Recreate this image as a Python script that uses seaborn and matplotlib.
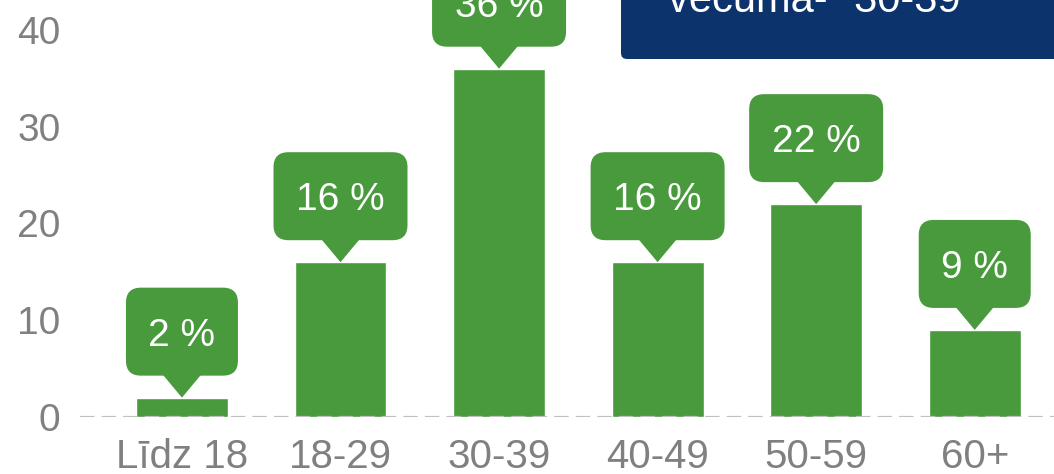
import numpy as np
import pandas as pd
import seaborn as sns
import matplotlib.pyplot as plt
import matplotlib.transforms as mtransforms
from matplotlib.patches import FancyBboxPatch, Polygon

# data
age_groups = ["Līdz 18", "18-29", "30-39", "40-49", "50-59", "60+"]
shares = [2, 16, 36, 16, 22, 9]
callout_labels = ["2 %", "16 %", "36 %", "16 %", "22 %", "9 %"]
y_ticks = [0, 10, 20, 30, 40]
banner_text = 'vecuma- "30-39"'

green = "#489a3d"
navy = "#0c336b"
grey = "#808080"

sns.set_theme(style="white")
plt.rcParams["font.family"] = ["Liberation Sans", "DejaVu Sans"]

df = pd.DataFrame({"age": age_groups, "share": shares})

fig = plt.figure(figsize=(10.54, 4.74), dpi=100)
ax = fig.add_axes([80 / 1054, 57 / 474, 1 - 80 / 1054, 1 - 57 / 474])

sns.barplot(data=df, x="age", y="share", color=green, saturation=1,
            width=0.58, ax=ax)

ax.set_xlim(-0.643, 5.50)
ax.set_ylim(0, 43.1)
ax.set_yticks(y_ticks)
ax.set_xlabel("")
ax.set_ylabel("")
sns.despine(ax=ax, left=True, bottom=True)
ax.tick_params(axis="both", length=0, labelsize=28, labelcolor=grey)
ax.tick_params(axis="y", pad=14)
ax.tick_params(axis="x", pad=15, labelsize=29)

ax.axhline(0, color="#c0c0c0", lw=1.6, dashes=(6.5, 3.2), zorder=5)

# callouts above each bar (offsets in pixels from bar top)
for i, (v, lab) in enumerate(zip(shares, callout_labels)):
    trans = mtransforms.ScaledTranslation(i, v, ax.transData)
    w = 112 if len(lab) < 4 else 134
    box = FancyBboxPatch((-w / 2, 22), w, 88,
                         boxstyle="round,pad=0,rounding_size=15",
                         fc=green, ec="none", transform=trans, clip_on=False)
    tri = Polygon([(-20, 24), (20, 24), (0, 0)], closed=True,
                  fc=green, ec="none", transform=trans, clip_on=False)
    ax.add_patch(box)
    ax.add_patch(tri)
    ax.annotate(lab, xy=(i, v), xytext=(0, 66), textcoords="offset pixels",
                ha="center", va="center_baseline", color="white", fontsize=28)

# banner at top right
banner = FancyBboxPatch((621, 415), 600, 200,
                        boxstyle="round,pad=0,rounding_size=6",
                        fc=navy, ec="none",
                        transform=mtransforms.IdentityTransform())
fig.add_artist(banner)
fig.text(668 / 1054, 462 / 474, banner_text, color="white", fontsize=30,
         ha="left", va="baseline")

fig.savefig("out.png", dpi=100)
